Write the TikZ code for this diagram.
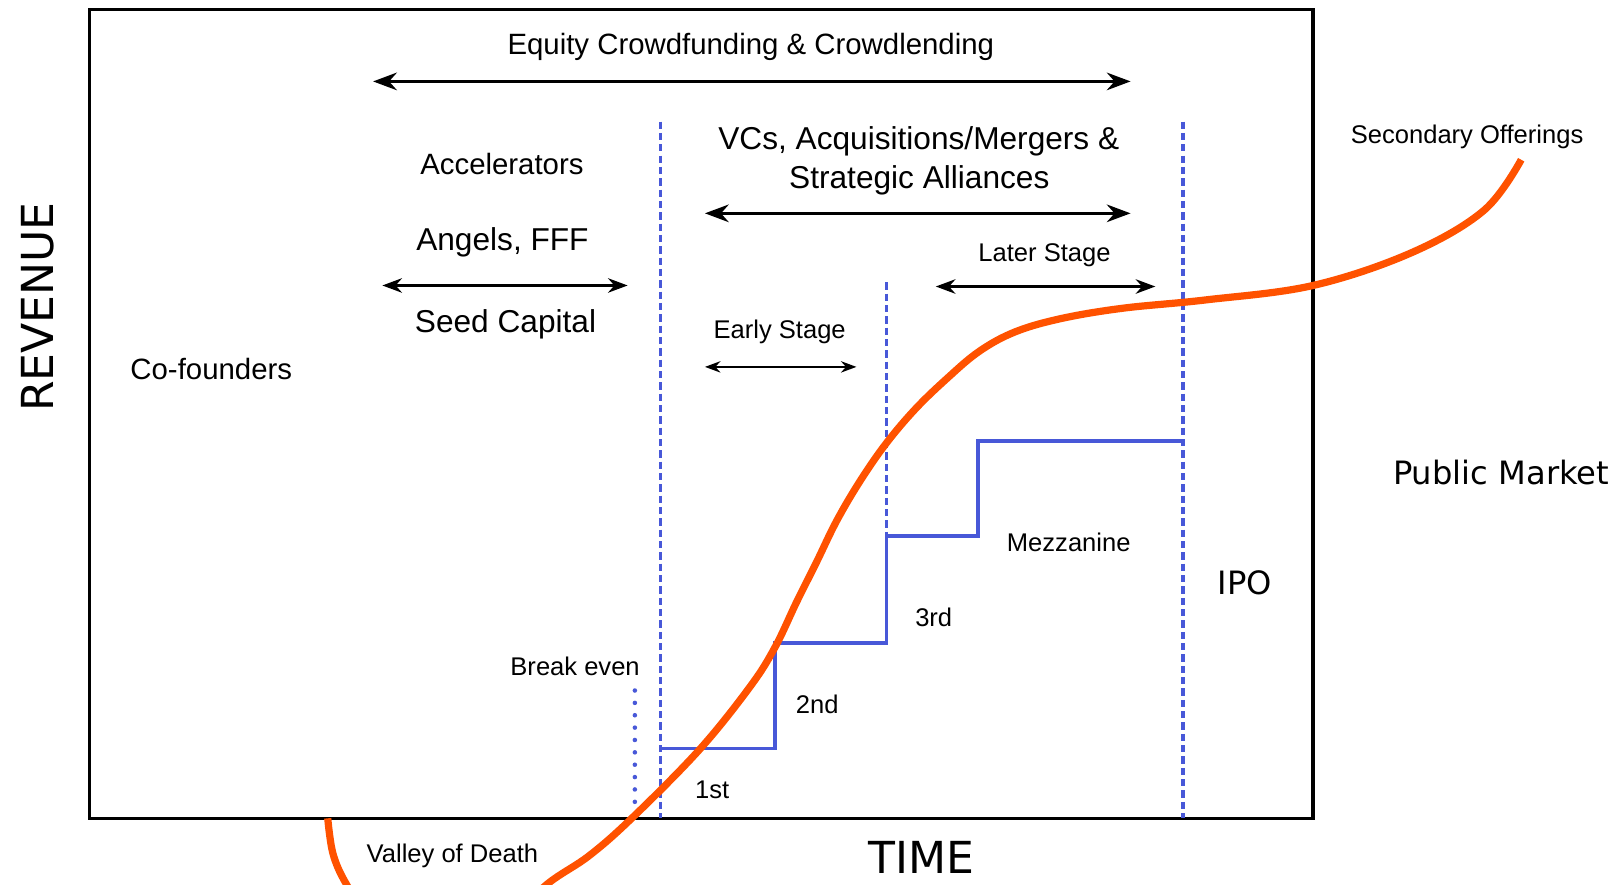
\documentclass[tikz,border=0pt]{standalone}
\usepackage{fontspec}
\setmainfont{Liberation Sans}
\newfontfamily\dejavu{DejaVu Sans}
\usetikzlibrary{arrows.meta}
\definecolor{growthorange}{HTML}{FF5200}
\definecolor{roundblue}{HTML}{4858D8}
\tikzset{
  frame/.style={draw=black, line width=3.2pt},
  span/.style={{Stealth[length=23pt,width=17pt]}-{Stealth[length=23pt,width=17pt]}, line width=3.4pt},
  midspan/.style={{Stealth[length=19pt,width=14pt]}-{Stealth[length=19pt,width=14pt]}, line width=2.8pt},
  shortspan/.style={{Stealth[length=15pt,width=11pt]}-{Stealth[length=15pt,width=11pt]}, line width=2.2pt},
  stage/.style={draw=roundblue, line width=3.4pt, dash pattern=on 7pt off 4pt},
  breakeven/.style={draw=roundblue, line width=4.4pt, line cap=round, dash pattern=on 0pt off 12pt},
  rounds/.style={draw=roundblue, line width=3.2pt},
  growth/.style={draw=growthorange, line width=7pt},
  lbl/.style={anchor=base, inner sep=0pt, font=\fontsize{24.8}{29}\selectfont},
  midlbl/.style={anchor=base, inner sep=0pt, font=\fontsize{28.5}{33}\selectfont},
  biglbl/.style={anchor=base, inner sep=0pt, font=\fontsize{30.7}{35}\selectfont},
  vlbl/.style={anchor=base, inner sep=0pt, font=\dejavu\fontsize{31.2}{36}\selectfont},
  axislbl/.style={anchor=base, inner sep=0pt, font=\dejavu\fontsize{42.8}{48}\selectfont}
}
\begin{document}
\begin{tikzpicture}[x=1pt,y=-1pt]
  \useasboundingbox (0,0) rectangle (1568,858);
  \fill[white] (0,0) rectangle (1568,858);

  % frame and axis labels
  \draw[frame] (87,9) rectangle (1274,794);
  \node[axislbl] (time) at (894,848) {TIME};
  \node[axislbl, rotate=90] (revenue) at (51.5,298) {REVENUE};

  % stage boundaries
  \draw[stage] (641,118) -- (641,794);
  \draw[stage] (860,274) -- (860,520);
  \draw[stage] (1148,118) -- (1148,794);
  \draw[breakeven] (616,670) -- (616,794);

  % funding rounds
  \draw[rounds] (641,726) -- (752,726) -- (752,624) -- (860,624) -- (860,520)
    -- (949,520) -- (949,428) -- (1148,428);

  % span arrows
  \coordinate (crowdL) at (362,79);
  \coordinate (crowdR) at (1097,79);
  \coordinate (angelL) at (371,277);
  \coordinate (angelR) at (609,277);
  \coordinate (vcL) at (684,207);
  \coordinate (vcR) at (1097,207);
  \coordinate (laterL) at (908,278);
  \coordinate (laterR) at (1121,278);
  \coordinate (earlyL) at (684,356);
  \coordinate (earlyR) at (831,356);
  \draw[span] (crowdL) -- (crowdR);
  \draw[midspan] (angelL) -- (angelR);
  \draw[span] (vcL) -- (vcR);
  \draw[midspan] (laterL) -- (laterR);
  \draw[shortspan] (earlyL) -- (earlyR);

  % labels
  \node[midlbl] (crowd) at (728.5,53) {Equity Crowdfunding \& Crowdlending};
  \node[midlbl] (accel) at (487,169) {Accelerators};
  \node[biglbl] (angels) at (487.5,243) {Angels, FFF};
  \node[biglbl] (seed) at (490.5,323) {Seed Capital};
  \node[midlbl] (cofound) at (205,368) {Co-founders};
  \node[biglbl] (vc1) at (891.5,145) {VCs, Acquisitions/Mergers \&};
  \node[biglbl] (vc2) at (892,183) {Strategic Alliances};
  \node[lbl] (later) at (1013.5,254) {Later Stage};
  \node[lbl] (early) at (756.5,328) {Early Stage};
  \node[lbl] (mezz) at (1037,535) {Mezzanine};
  \node[lbl] (third) at (906,608) {3rd};
  \node[lbl] (second) at (793,692) {2nd};
  \node[lbl] (first) at (691,775) {1st};
  \node[lbl] (breakev) at (558,655) {Break even};
  \node[lbl] (valley) at (439,837) {Valley of Death};
  \node[lbl] (secondary) at (1423.5,139) {Secondary Offerings};
  \node[vlbl] (ipo) at (1208,577) {IPO};
  \node[vlbl] (public) at (1456.5,470) {Public Market};

  % growth curve
  \begin{scope}
    \clip (0,0) rectangle (1568,858);
    \draw[growth] plot[smooth, tension=0.6] coordinates {
      (318,794) (323,828) (335,856) (354,882) (392,905) (442,910)
      (492,893) (532,857) (572,830) (614,793) (679,727) (728,666)
      (752,628) (773,584) (792,546) (812,505) (835,466) (860,430)
      (888,397) (918,368) (950,341) (985,322) (1030,309) (1090,299)
      (1170,291) (1274,277) (1370,245) (1440,204) (1476,155)};
  \end{scope}
\end{tikzpicture}
\end{document}
